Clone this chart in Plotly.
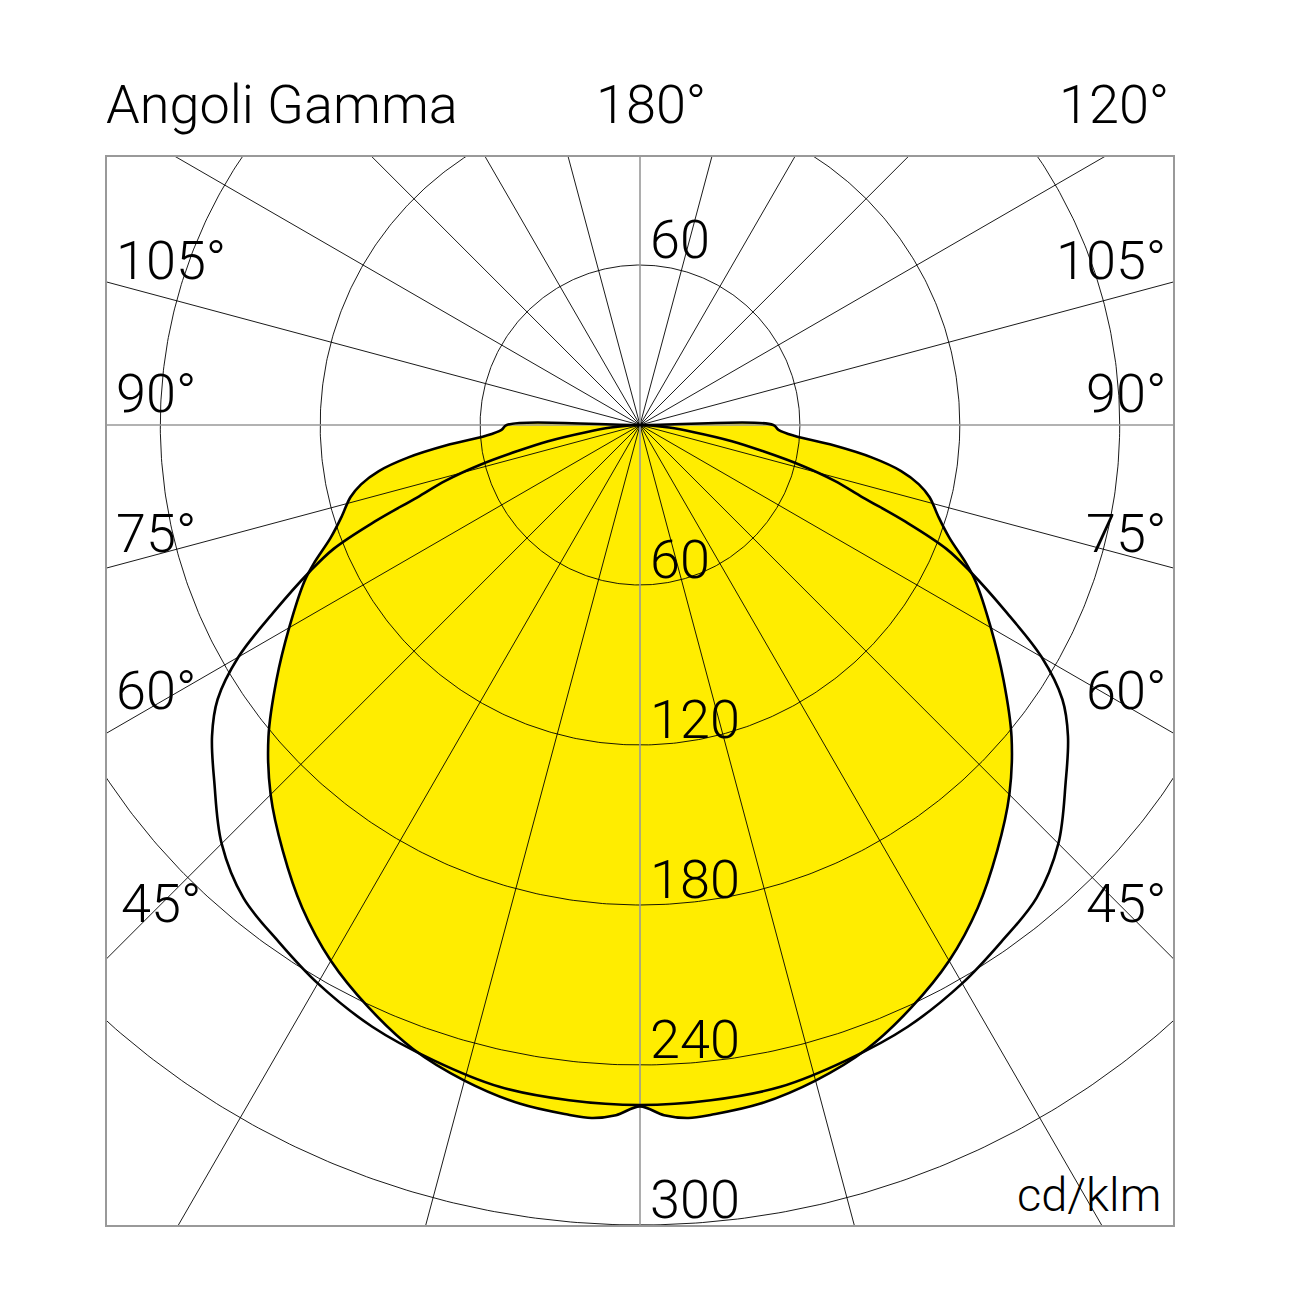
import numpy as np
import plotly.graph_objects as go

# ---------------- data (cd/klm vs gamma angle in degrees) ----------------
# Yellow filled plane (C0-C180)
gamma_c0 = [0, 2, 4, 6, 10, 15, 20, 25, 30, 35, 40, 45, 50, 55, 60, 65, 67,
            70, 73, 76, 78, 80, 82, 84, 86, 88, 90]
cd_c0 = [255.5, 259, 260.5, 260, 258.5, 254.5, 249, 241, 232, 221, 208.5, 196,
         182, 166.5, 152, 139, 133, 123.5, 117, 112, 107, 99.5, 88, 73, 58, 52, 50]

# Black outline plane (C90-C270)
gamma_c90 = [0, 6, 12, 18, 24, 30, 35, 40, 45, 50, 54, 57, 60, 63, 66, 68, 70,
             72, 74, 76, 78, 80, 82.5, 85, 87.5, 90]
cd_c90 = [255, 254.6, 253.7, 250.5, 247, 241.8, 236.5, 231.5, 222, 208.5, 198.5,
          189, 174, 154, 136, 124, 106, 88, 76, 62, 47, 35, 20, 11, 4, 0]

grid_radii = [60, 120, 180, 240, 300]
radial_tick_labels = ["60", "60", "120", "180", "240", "300"]
radial_tick_values = [60, -60, -120, -180, -240, -300]
left_angle_labels = ["105°", "90°", "75°", "60°", "45°"]
right_angle_labels = ["105°", "90°", "75°", "60°", "45°"]
top_labels = ["Angoli Gamma", "180°", "120°"]
unit_label = "cd/klm"

# ---------------- styling / layout constants ----------------
YELLOW = "#FFED00"
FONT = dict(family="Roboto, Liberation Sans, Arial, sans-serif", size=54, color="black",
            weight=300)
UNIT_FONT = dict(family="Roboto, Liberation Sans, Arial, sans-serif", size=47, color="black",
                 weight=300)
PX = 160 / 60.0  # pixels per cd/klm (for label placement only)

fig = go.Figure()

def polar_half(gammas, vals, side):
    g = np.radians(np.asarray(gammas, dtype=float))
    r = np.asarray(vals, dtype=float)
    return side * r * np.sin(g), -r * np.cos(g)

# yellow fill (path starts and ends at the cusp at gamma=0)
xr, yr = polar_half(gamma_c0, cd_c0, 1)
xl, yl = polar_half(gamma_c0, cd_c0, -1)
yx = np.concatenate([xr, [0.0], xl[::-1]])
yy = np.concatenate([yr, [0.0], yl[::-1]])
fig.add_trace(go.Scatter(x=yx, y=yy, mode="lines", fill="toself", fillcolor=YELLOW,
                         line=dict(color="rgba(0,0,0,0)", width=0, shape="spline"),
                         hoverinfo="skip"))

# circles
th = np.linspace(0, 2 * np.pi, 721)
for rad in grid_radii:
    fig.add_trace(go.Scatter(x=rad * np.cos(th), y=rad * np.sin(th), mode="lines",
                             line=dict(color="black", width=0.9), hoverinfo="skip"))

# radial lines every 15 degrees
for a in range(0, 360, 15):
    if a % 90 == 0:
        continue
    ar = np.radians(a)
    fig.add_trace(go.Scatter(x=[0, 600 * np.sin(ar)], y=[0, -600 * np.cos(ar)], mode="lines",
                             line=dict(color="black", width=0.9), hoverinfo="skip"))
for a in (0, 90, 180, 270):
    ar = np.radians(a)
    fig.add_trace(go.Scatter(x=[0, 600 * np.sin(ar)], y=[0, -600 * np.cos(ar)], mode="lines",
                             line=dict(color="#999999", width=1.6), hoverinfo="skip"))

# yellow outline
fig.add_trace(go.Scatter(x=yx, y=yy, mode="lines",
                         line=dict(color="black", width=2.6, shape="spline"), hoverinfo="skip"))

# black curve
bxr, byr = polar_half(gamma_c90, cd_c90, 1)
bxl, byl = polar_half(gamma_c90, cd_c90, -1)
bx = np.concatenate([bxl[::-1], bxr[1:]])
by = np.concatenate([byl[::-1], byr[1:]])
fig.add_trace(go.Scatter(x=bx, y=by, mode="lines",
                         line=dict(color="black", width=2.6, shape="spline"), hoverinfo="skip"))

ann = []
# top labels
ann.append(dict(text=top_labels[0], xref="paper", yref="paper", x=-0.003, y=1.0487,
                xanchor="left", yanchor="middle", font=FONT))
ann.append(dict(text=top_labels[1], xref="x", yref="paper", x=(651 - 640) / PX, y=1.0487,
                xanchor="center", yanchor="middle", font=FONT))
ann.append(dict(text=top_labels[2], xref="paper", yref="paper", x=0.998, y=1.0487,
                xanchor="right", yanchor="middle", font=FONT))
# angle labels
label_y_px = [260, 393, 533, 690, 903]
label_x_px = [114, 114, 114, 114, 119]
for txt, ypx, xpx in zip(left_angle_labels, label_y_px, label_x_px):
    ann.append(dict(text=txt, xref="x", yref="y", x=(xpx - 640) / PX, y=(425 - ypx) / PX,
                    xanchor="left", yanchor="middle", font=FONT))
for txt, ypx in zip(right_angle_labels, label_y_px):
    ann.append(dict(text=txt, xref="x", yref="y", x=(1168 - 640) / PX, y=(425 - ypx) / PX,
                    xanchor="right", yanchor="middle", font=FONT))
# radial tick labels
for txt, v in zip(radial_tick_labels, radial_tick_values):
    ann.append(dict(text=txt, xref="x", yref="y", x=(648 - 640) / PX, y=v + 9.4,
                    xanchor="left", yanchor="middle", font=FONT))
ann.append(dict(text=unit_label, xref="x", yref="y", x=(1163 - 640) / PX, y=(425 - 1194) / PX,
                xanchor="right", yanchor="middle", font=UNIT_FONT))
for a in ann:
    a["showarrow"] = False

fig.update_layout(
    width=1302, height=1302,
    margin=dict(l=107, r=129, t=157, b=77, pad=0),
    paper_bgcolor="white", plot_bgcolor="white",
    showlegend=False,
    xaxis=dict(range=[-200, 200], showgrid=False, zeroline=False, showticklabels=False,
               ticks="", showline=True, mirror=True, linecolor="#999999", linewidth=1.5,
               fixedrange=True),
    yaxis=dict(range=[-300, 100.5], showgrid=False, zeroline=False, showticklabels=False,
               ticks="", showline=True, mirror=True, linecolor="#999999", linewidth=1.5,
               fixedrange=True),
    annotations=ann,
)

fig.write_html("out.html", post_script="document.body.style.margin='0';",
               config={"displayModeBar": False})
